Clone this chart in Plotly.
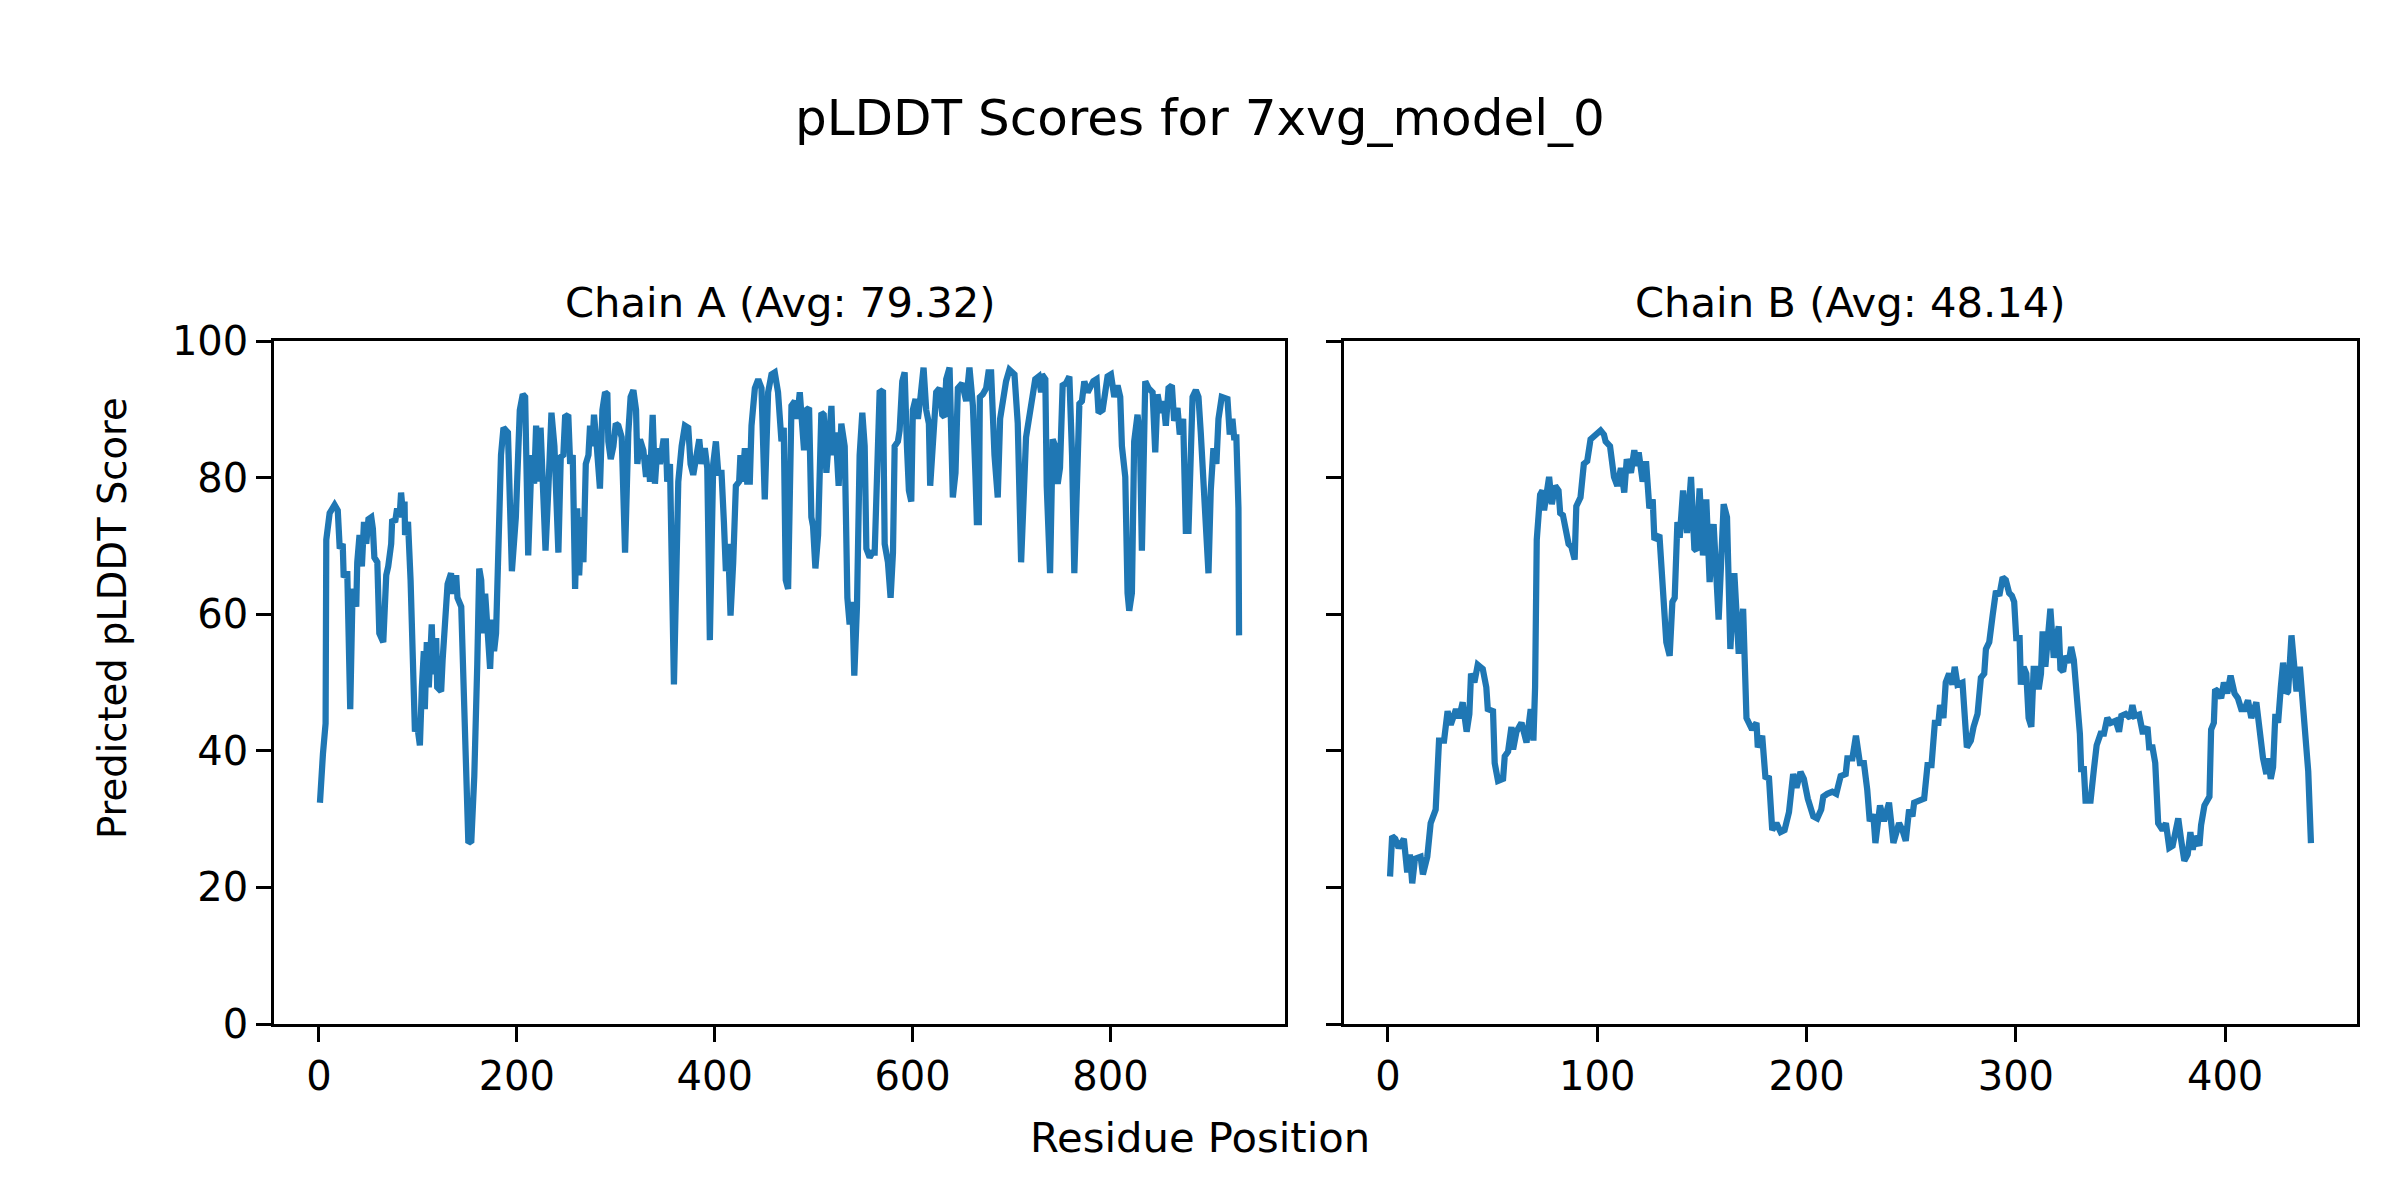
import plotly.graph_objects as go

# ---- data ----
chain_a_pos = [1,2.4,4,6.7,7.4,10.8,15.8,19,21,24,25,28.6,31.6,34,37.7,38.7,41,43.4,45.5,47.8,50,52.9,54.5,56,59,61,65,68,70,73,74,77,79,81.5,83,85,86.5,87,90,92.6,95,97,99,102,104,106,107,109,111,114,115.5,118.5,119.5,123.5,125,127,130,133.5,135,138.7,140,143.8,146,148.5,151,154,157,160,162,164,166,168,170.7,173,175,177,179,182,184,186.5,191,195,199,203,206,208.4,211.5,215,217.5,219.5,222,224,226,229,232,235,238,242,244.4,247,248.8,252,253.9,256.5,258.9,261,263,265.6,267.3,269.7,272.4,274,276.4,278,280.8,284,286.5,289.2,291.5,292.5,294.9,297.6,300,302.6,306,309.4,312.7,315,317.8,320.5,321.8,324.5,327.9,330.6,333,334.6,337.3,339.6,342,344.7,348,350.7,352,354.8,358.8,363.2,366.6,369.9,373.3,375.6,378.3,381.7,384.4,386.7,390,392.5,395.1,398.5,401.2,403.6,406.9,409.3,411.3,413.6,416,418.7,421.4,424.7,426,428,430.5,432.8,435.5,437.2,440.6,444,447.3,450.6,454,457.4,460.7,464,467.5,469.8,471.8,474.2,477.6,481,483.3,486,487.7,490.3,492.7,495.4,497.7,499.4,501.8,504.5,507.8,510.2,512.9,515.6,518,519.6,522.3,525.3,528,531.4,534.1,536.4,539.1,541.1,543.8,546.5,549.2,551.6,553.3,556.6,559.3,561.7,563.4,566.7,570.1,571.8,575.1,577.8,580.2,581.9,585.2,586.9,589.6,592,594.3,596.3,598.7,600.3,603,605.4,607.8,611.1,613.8,616.5,617.8,620.5,623.9,627.3,630,632.3,634,637.4,640.7,643.4,645.8,650.1,654.2,657.5,661,663.6,665,667,668,671,674.4,676.7,679.4,682.8,686.1,688.5,691.2,694.5,697.9,703,706.3,709.7,714.7,718,720.8,724,727.5,729.9,730.9,734.2,735.6,739,741.6,744.3,746.7,749,751.7,755,758.5,761.2,763.5,765.9,768.6,771.2,773.6,777,780.3,782.7,786,788,792.1,794.8,797.1,800.5,803.9,807.2,809.9,811.6,815,817.3,819,821.7,824,827.4,829.8,831.8,835.2,838.5,842.6,845.3,847.6,851,853.7,856,858.7,862.1,864.4,867.8,870.1,873.5,876.2,878.9,881.2,883,886.3,889,891.3,894.7,899.1,901.4,904.1,907.1,909.2,912.5,918.3,920.6,923.3,925,927.3,929.4,930]
chain_a_plddt = [32.4,38.9,39.5,44,70.9,74.8,76,75.2,69.6,70.3,65.4,66.3,46.1,63.7,61.1,67.6,71.6,67,73.5,70.3,73.9,74.2,72.5,68.3,67.6,57.2,55.9,65.7,67,70.3,73.9,73.5,75.5,74.2,77.8,74.5,76.5,71.6,73.5,65,55.9,42.8,44.1,40.8,49.3,54.6,46.1,55.9,49.3,58.5,51.2,56.5,49.3,48.7,53.3,58.5,64.4,66,63,65.7,62.4,61.1,49.3,44,26.5,26.8,36.3,52.6,66.7,65,57.2,63,54.6,52,59.2,54.6,57.2,72.9,83.3,87.3,86.6,66.3,74.2,89.9,92.2,91.8,68.6,83.3,79.1,87.6,79.4,87.3,79.4,69.3,78.8,89.5,84.6,69,83,83.3,88.9,89.2,82,83.3,63.7,75.5,65.7,74.2,67.6,82,83.3,87.6,84.6,89.2,84.6,78.4,89.9,92.5,92.2,85.3,82.7,84.6,87.9,87.6,85.9,69,86.6,91.8,92.8,89.9,82,85.6,84,80.1,83.3,79.4,89.2,79.1,84.3,82,85.3,85.3,79.4,82,49.7,79.4,84.6,87.6,87.3,82,80.4,83.3,85.6,82,84.3,81.4,56.2,82,85.3,80.7,80.7,73.5,66.3,70.3,59.8,67.6,78.8,79.4,83.3,79.4,84.3,79.4,79.4,87.6,93.1,94.4,93.1,76.8,92.5,95.1,95.4,92.5,85.3,87.3,65,63.7,90.5,91.2,88.6,92.5,87.9,84,89.9,90.2,74.2,72.9,66.7,71.6,89.5,89.2,80.7,85.9,90.5,83.3,86.6,78.8,87.9,84.6,62.4,58.5,61.8,51,61.1,83.3,89.5,84.6,69.6,68.3,69,69,77.5,92.5,92.8,70.3,67.6,62.4,69,84.6,85.3,86.9,94.1,95.4,84.6,78.1,76.5,89.9,91.5,88.6,91.5,96.1,89.9,87.9,78.8,85.9,92.5,93.1,89.2,88.9,94.4,96.1,77.1,80.7,93.1,93.8,91.2,96.1,90.5,80.1,73.5,73.5,91.8,92.2,93.1,95.4,95.4,83.3,77.1,88.6,91.8,94.1,95.8,95.1,88,67.6,85.9,89.2,91.8,94.4,94.8,92.5,95.1,94.4,78.8,66,85.6,84.6,79.1,81.4,93.5,93.8,94.8,83.3,66,82,90.8,91.2,94.1,92.5,93.8,94.1,94.4,89.5,89.9,92.5,94.8,95.1,91.8,93.5,91.8,84.6,80.1,63.1,60.5,63.1,85.3,89.2,85.9,69.3,94.1,93.1,92.5,83.7,92.2,89.5,91.2,87.6,93.1,93.5,88.3,90.2,86.3,88.6,72.2,72.2,85.3,91.8,92.8,91.8,86.6,79.1,66,78.1,84.3,82,88.6,91.8,91.5,86.3,88.6,85.9,85.9,75.5,56.9]

chain_b_pos = [1,2,3.5,5.1,7.6,9.2,10.5,11.6,12.9,15.6,16.7,18.8,20.4,22.8,24.4,26.8,28.5,30,32.5,34,35.7,37.6,38.9,39.7,41.3,42.9,45.3,47,47.7,50.2,51,52.6,55,55.8,57.4,59,59.8,61.4,63.8,66.2,68.2,69.5,70.3,71.1,72.7,73.8,74.6,75.9,77,78.3,79.9,81.5,82.3,83.6,85,86.3,87.6,89.2,90,92,93.6,95.2,96.8,99.2,101.6,103.2,104,106.1,108,109.6,111.3,112.9,114.1,116.1,117.7,119,119.8,121.7,123.3,124.9,126.5,127.3,129.7,133,134.6,135.9,137,138.3,139.4,141,142.1,142.9,144.8,146.4,147.4,148.9,150.5,152.1,153.7,155.6,158,160.4,162,163.6,165.5,167.6,169.7,171.3,174,176.1,176.7,178.8,180.4,182,183.6,185.6,187.6,189.5,191.6,193.6,195.2,197.1,198.7,200.6,203.2,205.1,207,208,209.9,212.3,214.2,216.3,218.7,219.5,221.9,223.6,225.5,227.4,229,230.2,231.9,232.9,235.1,237,239.4,241.5,244.2,245.8,247.4,249,250.6,251.4,253.8,256.2,257.8,259.7,261.3,263,263.8,265.4,266.5,268.1,269.7,270.8,272.1,274.5,276.6,278.5,279.8,281.7,283.3,284.9,285.7,287.3,288.9,290.5,292.1,293.7,295.2,296.8,298.1,299.2,300.2,301.8,302.4,303.7,305,306.1,307.4,308.5,310.1,310.9,312,312.8,314.1,316.5,318.1,318.9,320.5,321.3,322.6,323.7,325.3,326.4,327.7,329,329.8,330.6,331.2,332.5,333.3,335.7,337.3,338.6,340.5,342.1,343.7,345.3,347.7,349.3,350.4,352.5,354.6,355.7,356.8,358.9,360.5,361.6,362.9,363.7,365.3,366.6,368,370.1,371.7,373.3,374.9,376,377.6,378.9,380.5,382.1,383.4,384.5,385.6,387.7,388.5,390.1,392.5,393.3,394.6,395.2,396.5,398.1,399.4,401,402.6,404.5,406.1,407.7,409.3,410.9,412.5,414.9,416.5,418.1,419.7,420.5,421.8,422.9,424,425.3,426.6,427.7,429.3,430.1,431.7,433,434.1,435.7,437.3,438.4,439.7,441]
chain_b_plddt = [21.6,27.5,27.1,25.8,27.1,22.2,24.8,20.6,24.2,24.5,21.9,24.5,29.4,31.4,41.5,41.5,45.8,43.8,46.1,44.8,47.1,42.8,45.4,51.3,50,52.6,52,49.3,46.1,45.8,38.2,35.6,35.9,39.2,39.9,43.5,40.2,42.8,44.1,41.2,46.1,41.5,49.3,70.9,77.5,78.1,75.2,78.1,80.1,76.1,78.8,78.1,74.8,74.5,72.2,70.3,69.9,68,75.8,77.1,82,82.4,85.6,86.3,86.9,86.3,85.3,84.6,80.1,78.8,81.4,77.8,82.7,80.7,84,81.7,83.7,79.4,82.4,75.5,76.8,70.9,71.6,55.9,53.9,61.8,62.4,73.5,71.2,78.1,73.5,71.9,80.1,69.6,69.3,78.4,68.6,76.8,64.7,73.2,59.2,76.1,74.2,54.9,66,54.2,60.8,44.8,43.1,44.1,40.5,42.2,35.9,36.3,28.4,29.4,28.1,28.4,31,36.6,34.6,36.9,35.9,33,30.4,30.1,31.4,33.3,33.7,34,33.7,36.3,36.6,38.9,38.9,42.2,38.2,38.2,34.3,29.7,30.7,26.5,32,29.7,32.4,26.5,29.4,28.4,26.8,31.4,30.4,32.4,32.7,33,37.9,37.9,44.1,44.1,46.7,44.8,50,51.3,49.7,52.3,49.7,50,40.5,41.5,43.5,45.4,50.7,51.3,54.9,55.9,59.8,63.4,62.7,65.4,65,63.1,62.7,61.8,56.5,56.5,49.7,52.3,51.3,44.8,43.5,52,52,49,51.3,57.5,52.3,60.8,53.6,55.9,58.2,52,51.6,53.9,52.9,55.2,53.3,49.3,45.4,42.5,37.3,37.3,32.7,32.7,37.3,40.8,42.5,42.5,44.8,44.1,44.4,42.8,45.1,45.4,44.8,46.7,45.1,45.3,42.8,42.8,43.5,40.5,40.5,38.2,29.4,28.4,29.4,25.8,26.1,27.8,30.1,27.1,23.9,24.8,28.1,25.5,27.5,26.1,29.1,32,33.3,43.1,44.1,49,48.7,47.7,50,48.4,51,48.4,47.7,46.1,46.1,47.4,44.8,47.1,42.8,38.9,36.6,38.9,35.9,37.6,45.4,44.1,49.3,52.9,48.4,48.7,56.9,50.7,48.7,52.3,45.4,41.5,37,26.5]

chain_labels = ["Chain A (Avg: 79.32)", "Chain B (Avg: 48.14)"]
main_title = "pLDDT Scores for 7xvg_model_0"
x_label = "Residue Position"
y_label = "Predicted pLDDT Score"
y_ticks = [0, 20, 40, 60, 80, 100]
xa_ticks = [0, 200, 400, 600, 800]
xb_ticks = [0, 100, 200, 300, 400]

# ---- styling ----
W, H = 2400, 1200
FONT = "DejaVu Sans"
SMALL = 40
LABEL = 41.7
BIG = 50
LINE_COLOR = "#1f77b4"
LW = 6.25
SPINE = 3.3
TICKLEN = 14.6

def px_x(p):
    return p / W

def px_y(p):
    return 1 - p / H

xa_dom = [px_x(274), px_x(1285)]
xb_dom = [px_x(1344), px_x(2357)]
y_dom = [px_y(1024), px_y(341)]

def pad_range(vals):
    lo, hi = min(vals), max(vals)
    m = 0.05 * (hi - lo)
    return [lo - m, hi + m]

fig = go.Figure()
fig.add_trace(go.Scatter(x=chain_a_pos, y=chain_a_plddt, mode="lines",
                         line=dict(color=LINE_COLOR, width=LW),
                         xaxis="x", yaxis="y", showlegend=False))
fig.add_trace(go.Scatter(x=chain_b_pos, y=chain_b_plddt, mode="lines",
                         line=dict(color=LINE_COLOR, width=LW),
                         xaxis="x2", yaxis="y2", showlegend=False))

axis_common = dict(showline=True, linecolor="black", linewidth=SPINE, mirror=True,
                   ticks="outside", ticklen=TICKLEN, tickwidth=SPINE, tickcolor="black",
                   showgrid=False, zeroline=False, automargin=False,
                   tickfont=dict(family=FONT, size=SMALL, color="black"))

fig.update_layout(
    width=W, height=H, autosize=False,
    margin=dict(l=0, r=0, t=0, b=0, pad=0),
    paper_bgcolor="white", plot_bgcolor="white",
    font=dict(family=FONT, color="black"),
    xaxis=dict(domain=xa_dom, anchor="y", range=pad_range(chain_a_pos),
               tickvals=xa_ticks, **axis_common),
    xaxis2=dict(domain=xb_dom, anchor="y2", range=pad_range(chain_b_pos),
                tickvals=xb_ticks, **axis_common),
    yaxis=dict(domain=y_dom, anchor="x", range=[0, 100], tickvals=y_ticks, **axis_common),
    yaxis2=dict(domain=y_dom, anchor="x2", range=[0, 100], tickvals=y_ticks,
                showticklabels=False, **axis_common),
)

annots = [
    dict(text=main_title, x=0.5, y=px_y(118), font=dict(family=FONT, size=BIG, color="black")),
    dict(text=chain_labels[0], x=(xa_dom[0] + xa_dom[1]) / 2, y=px_y(302),
         font=dict(family=FONT, size=LABEL, color="black")),
    dict(text=chain_labels[1], x=(xb_dom[0] + xb_dom[1]) / 2, y=px_y(302),
         font=dict(family=FONT, size=LABEL, color="black")),
    dict(text=x_label, x=0.5, y=px_y(1137), font=dict(family=FONT, size=LABEL, color="black")),
    dict(text=y_label, x=px_x(112), y=px_y(618), textangle=-90,
         font=dict(family=FONT, size=38.5, color="black")),
]
for a in annots:
    fig.add_annotation(xref="paper", yref="paper", showarrow=False,
                       xanchor="center", yanchor="middle", **a)

fig.write_html("out.html", config={"responsive": False, "displayModeBar": False},
               post_script="document.body.style.margin='0';document.body.style.padding='0';")
